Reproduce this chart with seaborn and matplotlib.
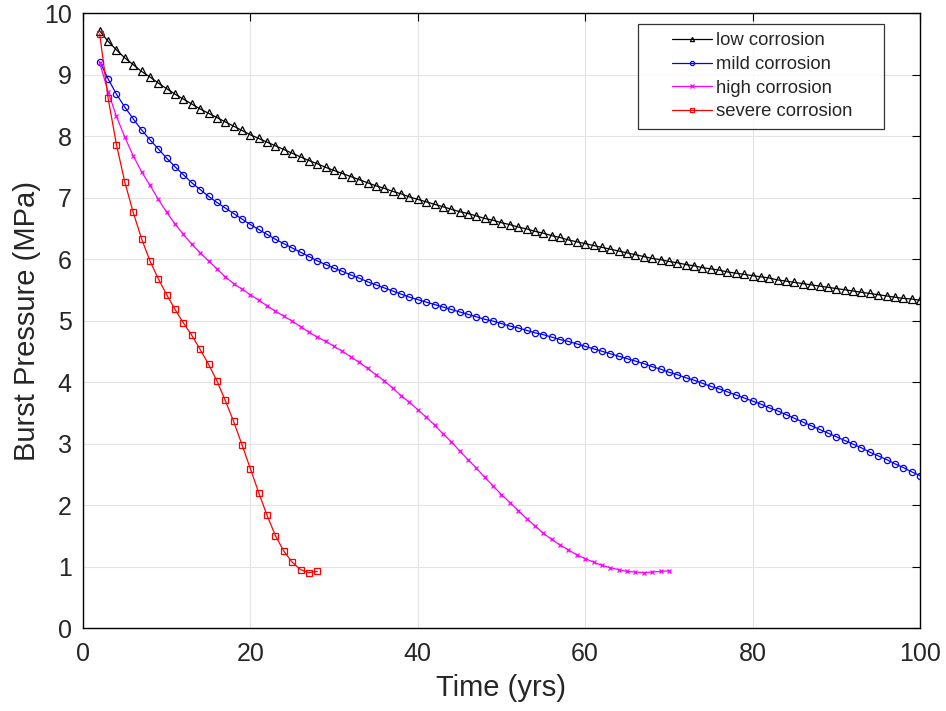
import matplotlib
matplotlib.use("Agg")
import matplotlib.pyplot as plt
import pandas as pd
import seaborn as sns
from matplotlib.lines import Line2D
from matplotlib.legend_handler import HandlerLine2D

# values, one point per year
years_low = list(range(2, 101))
low = [9.71, 9.54, 9.40, 9.27, 9.16, 9.05, 8.96, 8.86, 8.77, 8.68,
       8.60, 8.52, 8.44, 8.37, 8.30, 8.23, 8.16, 8.09, 8.02, 7.96,
       7.90, 7.84, 7.78, 7.72, 7.66, 7.60, 7.55, 7.49, 7.44, 7.39,
       7.34, 7.29, 7.24, 7.19, 7.15, 7.10, 7.06, 7.01, 6.97, 6.93,
       6.89, 6.85, 6.81, 6.77, 6.74, 6.70, 6.66, 6.63, 6.59, 6.56,
       6.52, 6.49, 6.45, 6.42, 6.38, 6.35, 6.31, 6.28, 6.25, 6.22,
       6.19, 6.16, 6.13, 6.10, 6.07, 6.04, 6.01, 5.99, 5.96, 5.94,
       5.91, 5.89, 5.86, 5.84, 5.82, 5.79, 5.77, 5.75, 5.73, 5.71,
       5.69, 5.66, 5.64, 5.62, 5.60, 5.58, 5.56, 5.54, 5.52, 5.50,
       5.48, 5.46, 5.44, 5.42, 5.40, 5.38, 5.36, 5.35, 5.33]

years_mild = list(range(2, 101))
mild = [9.21, 8.93, 8.68, 8.47, 8.28, 8.10, 7.94, 7.79, 7.64, 7.50,
        7.37, 7.24, 7.13, 7.02, 6.92, 6.83, 6.74, 6.65, 6.56, 6.48,
        6.40, 6.32, 6.25, 6.18, 6.11, 6.04, 5.97, 5.91, 5.85, 5.80,
        5.74, 5.69, 5.63, 5.58, 5.53, 5.48, 5.43, 5.38, 5.34, 5.30,
        5.26, 5.22, 5.18, 5.14, 5.10, 5.06, 5.02, 4.99, 4.95, 4.91,
        4.88, 4.84, 4.80, 4.77, 4.73, 4.69, 4.66, 4.62, 4.58, 4.54,
        4.50, 4.46, 4.42, 4.38, 4.34, 4.30, 4.25, 4.21, 4.16, 4.12,
        4.07, 4.03, 3.98, 3.93, 3.89, 3.84, 3.79, 3.74, 3.69, 3.64,
        3.58, 3.53, 3.47, 3.41, 3.35, 3.29, 3.23, 3.17, 3.11, 3.05,
        2.99, 2.93, 2.86, 2.80, 2.74, 2.67, 2.61, 2.54, 2.48]

years_high = list(range(2, 71))
high = [9.19, 8.72, 8.32, 7.98, 7.68, 7.42, 7.20, 6.97, 6.76, 6.57,
        6.40, 6.24, 6.10, 5.97, 5.84, 5.71, 5.60, 5.51, 5.42, 5.33,
        5.24, 5.15, 5.07, 4.99, 4.90, 4.81, 4.73, 4.66, 4.58, 4.50,
        4.41, 4.32, 4.22, 4.12, 4.02, 3.90, 3.78, 3.67, 3.55, 3.43,
        3.30, 3.16, 3.03, 2.88, 2.74, 2.60, 2.45, 2.31, 2.17, 2.04,
        1.91, 1.78, 1.66, 1.54, 1.44, 1.35, 1.27, 1.19, 1.13, 1.07,
        1.02, 0.98, 0.95, 0.92, 0.91, 0.90, 0.91, 0.92, 0.93]

years_severe = list(range(2, 29))
severe = [9.66, 8.62, 7.86, 7.25, 6.76, 6.33, 5.97, 5.68, 5.42, 5.18,
          4.96, 4.76, 4.53, 4.29, 4.02, 3.70, 3.36, 2.98, 2.59, 2.20,
          1.83, 1.50, 1.25, 1.07, 0.95, 0.90, 0.92]

labels = ["low corrosion", "mild corrosion", "high corrosion", "severe corrosion"]
colors = {"low corrosion": "#000000", "mild corrosion": "#0000ff",
          "high corrosion": "#ff00ff", "severe corrosion": "#ff0000"}
markers = {"low corrosion": "^", "mild corrosion": "o",
           "high corrosion": "x", "severe corrosion": "s"}
msizes = {"low corrosion": 5.5, "mild corrosion": 4.5,
          "high corrosion": 3.5, "severe corrosion": 4.2}

df = pd.concat([
    pd.DataFrame({"year": years_low, "pressure": low, "series": labels[0]}),
    pd.DataFrame({"year": years_mild, "pressure": mild, "series": labels[1]}),
    pd.DataFrame({"year": years_high, "pressure": high, "series": labels[2]}),
    pd.DataFrame({"year": years_severe, "pressure": severe, "series": labels[3]}),
])

sns.set_theme(style="white")
plt.rcParams["font.family"] = ["Liberation Sans", "DejaVu Sans"]

fig = plt.figure(figsize=(9.46, 7.11), dpi=100)
ax = fig.add_axes([0.0877, 0.1167, 0.8848, 0.865])

for s in labels:
    c = colors[s]
    sns.lineplot(df[df["series"] == s], x="year", y="pressure", ax=ax,
                 color=c, marker=markers[s], markersize=msizes[s],
                 markerfacecolor="none", markeredgecolor=c, markeredgewidth=0.9,
                 lw=0.9, estimator=None, label=s)

ax.set_xlim(0, 100)
ax.set_ylim(0, 10)
ax.set_xticks(range(0, 101, 20))
ax.set_yticks(range(0, 11))
ax.grid(True, color="#e3e3e3", lw=0.8)
ax.set_axisbelow(True)
for sp in ax.spines.values():
    sp.set_color("black")
    sp.set_linewidth(1.0)
ax.tick_params(direction="in", length=6, width=0.8, top=True, right=True,
               colors="black", labelcolor="#262626", labelsize=18)
ax.tick_params(axis="y", pad=8)
ax.tick_params(axis="x", pad=10)

ax.set_xlabel("Time (yrs)", fontsize=21, color="#262626", labelpad=6)
ax.set_ylabel("Burst Pressure (MPa)", fontsize=21, color="#262626", labelpad=2)

leg = ax.legend(loc="upper left", bbox_to_anchor=(0.6631, 0.7821, 0.2939, 0.2),
                mode="expand", borderaxespad=0,
                fontsize=13.3, frameon=True, fancybox=False, edgecolor="black",
                handlelength=3.55, labelspacing=0.36, borderpad=0.45, handletextpad=0.2,
                handler_map={Line2D: HandlerLine2D(xpad=1.38)})
leg.get_frame().set_linewidth(0.9)
for h in leg.legend_handles:
    h.set_markersize(3)

fig.savefig("out.png", dpi=100)
